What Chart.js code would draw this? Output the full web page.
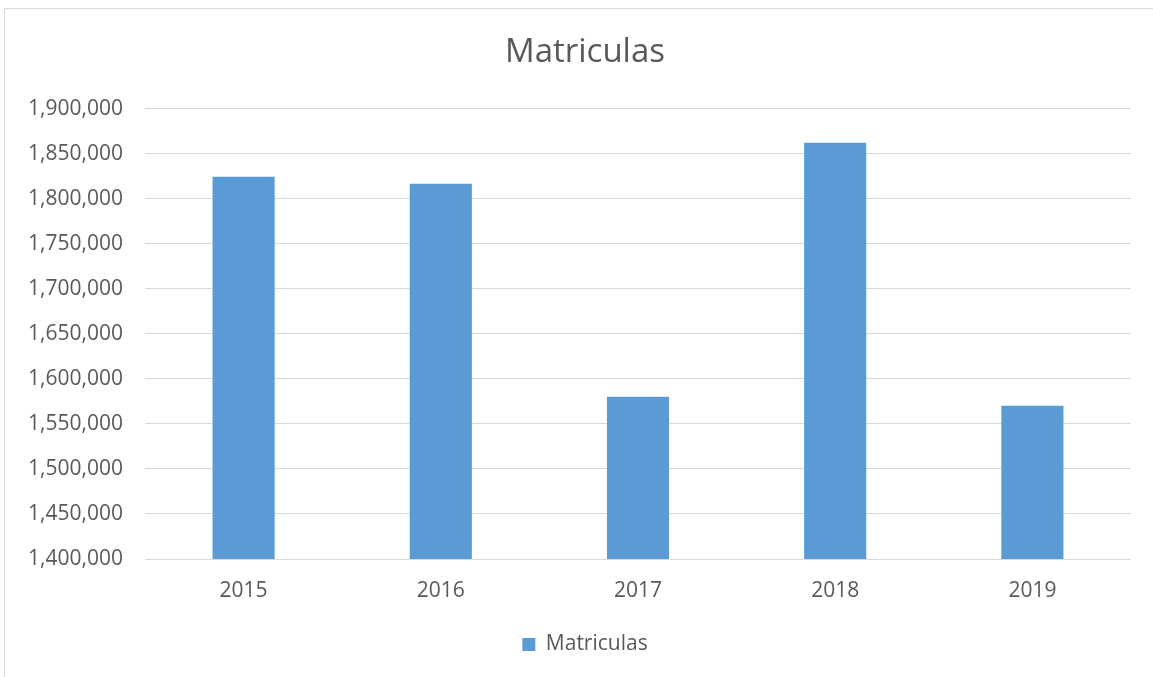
<!DOCTYPE html>
<html>
<head>
<meta charset="utf-8">
<script src="https://cdn.jsdelivr.net/npm/chart.js@4.4.0/dist/chart.umd.min.js"></script>
<style>
  html, body { margin: 0; padding: 0; background: #fff; }
  #wrap { position: relative; width: 1153px; height: 677px; overflow: hidden; }
  #frame { position: absolute; left: 4px; top: 8px; width: 1200px; height: 700px;
           border-left: 1px solid #d9d9d9; border-top: 1px solid #d9d9d9; }
  canvas { position: absolute; left: 0; top: 0; }
</style>
</head>
<body>
<div id="wrap">
  <div id="frame"></div>
  <canvas id="chart" width="1170" height="677"></canvas>
</div>
<script>
const years = ['2015', '2016', '2017', '2018', '2019'];
const matriculas = [1824400, 1816700, 1580000, 1862000, 1570000];

const ctx = document.getElementById('chart').getContext('2d');
const grey = '#595959';
const font = 'Open Sans';

new Chart(ctx, {
  type: 'bar',
  data: {
    labels: years,
    datasets: [
      { label: 'Matriculas', data: matriculas, backgroundColor: '#5b9bd5',
        barPercentage: 0.315, categoryPercentage: 1 },
    ],
  },
  options: {
    responsive: false,
    animation: false,
    layout: { padding: { left: 0, right: 0, top: 0, bottom: 12 } },
    plugins: {
      title: {
        display: true,
        text: 'Matriculas',
        color: grey,
        font: { family: font, size: 33, weight: 'normal' },
        padding: { top: 33, bottom: 36 },
      },
      legend: {
        position: 'bottom',
        labels: {
          color: grey,
          font: { family: font, size: 21 },
          boxWidth: 13,
          boxHeight: 13,
        },
      },
      tooltip: { enabled: false },
    },
    scales: {
      x: {
        grid: { display: false },
        border: { display: false },
        ticks: { color: grey, font: { family: font, size: 21 }, padding: 11 },
        afterFit: (scale) => { scale.height = 65; },
      },
      y: {
        min: 1400000,
        max: 1900000,
        grid: { color: '#d9d9d9', drawTicks: false },
        border: { display: false },
        ticks: {
          stepSize: 50000,
          color: grey,
          font: { family: font, size: 21 },
          padding: 22,
          callback: (v) => v.toLocaleString('en-US'),
        },
        afterFit: (scale) => { scale.width = 145; },
      },
      // empty right-hand axis, only keeps space so the plot ends where the original does
      spacer: {
        position: 'right',
        min: 0,
        max: 1,
        grid: { display: false },
        border: { display: false },
        ticks: { display: false },
        afterFit: (scale) => { scale.width = 39; },
      },
    },
  },
});
</script>
</body>
</html>
